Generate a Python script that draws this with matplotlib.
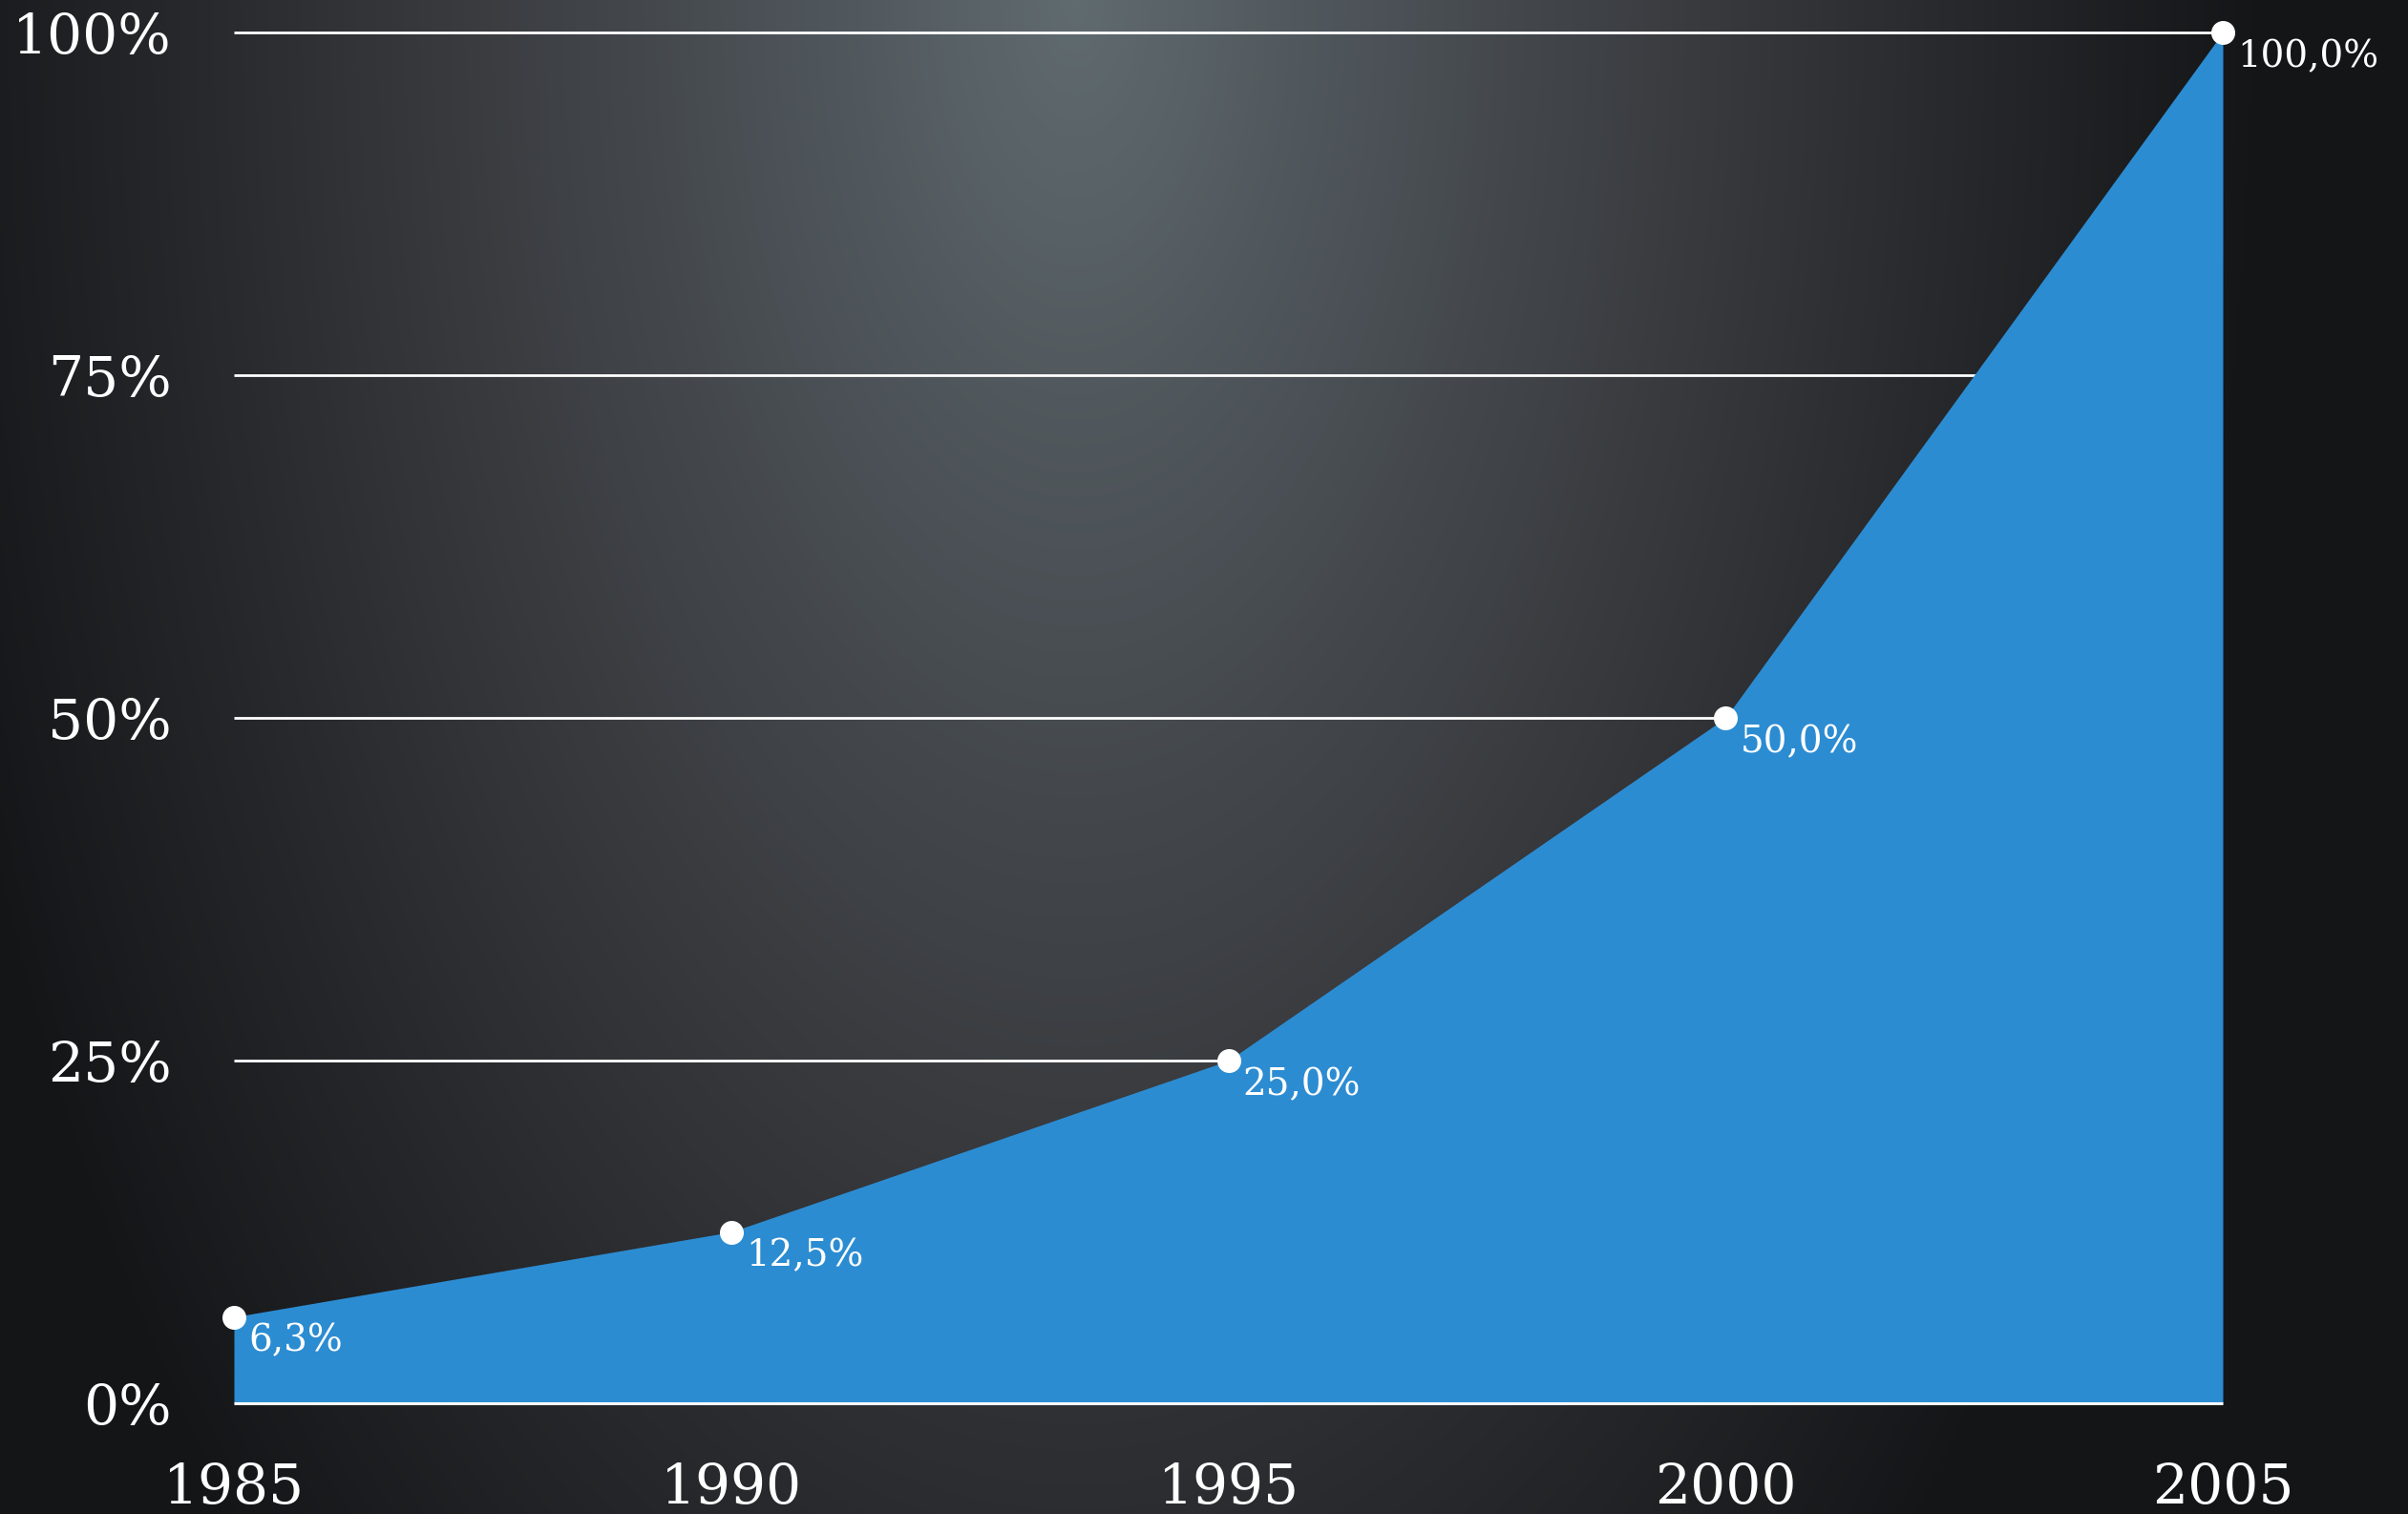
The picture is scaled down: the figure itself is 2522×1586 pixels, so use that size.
import numpy as np
import matplotlib
matplotlib.use("Agg")
import matplotlib.pyplot as plt
from matplotlib.colors import LinearSegmentedColormap

# ===============================
# DATA
# ===============================
years = [1985, 1990, 1995, 2000, 2005]
values = [6.3, 12.5, 25.0, 50.0, 100.0]
point_labels = ["6,3%", "12,5%", "25,0%", "50,0%", "100,0%"]
y_ticks = [0, 25, 50, 75, 100]
y_tick_labels = ["0%", "25%", "50%", "75%", "100%"]

# ===============================
# STYLE
# ===============================
plt.rcParams["font.family"] = ["DejaVu Serif", "DejaVu Sans"]
AREA_COLOR = "#2c8cd2"
W, H = 2522, 1586

fig = plt.figure(figsize=(W / 100, H / 100), dpi=100)

# background: soft spotlight from the top centre
bg = fig.add_axes([0, 0, 1, 1], zorder=-10)
xx, yy = np.meshgrid(np.arange(W), np.arange(H))
r = np.sqrt(((xx - 1126) / 1250.0) ** 2 + (yy / 2300.0) ** 2)
r = np.clip(r, 0, 1)
spot = LinearSegmentedColormap.from_list(
    "spot",
    [(0.0, (96/255, 107/255, 111/255)),
     (0.25, (76/255, 82/255, 87/255)),
     (0.5, (58/255, 60/255, 64/255)),
     (0.75, (38/255, 40/255, 43/255)),
     (1.0, (20/255, 21/255, 23/255))],
)
bg.imshow(r, cmap=spot, vmin=0, vmax=1, aspect="auto", interpolation="bilinear")
bg.axis("off")

# ===============================
# MAIN CHART
# ===============================
ax = fig.add_axes([245 / W, 1 - 1470 / H, (2328 - 245) / W, (1470 - 34) / H])
ax.patch.set_alpha(0)

# grid lines sit under the area; the top one needs to escape the clip box
for v in y_ticks[1:]:
    ax.axhline(v, color="white", lw=2.0, zorder=1, clip_on=(v != 100),
               solid_capstyle="butt")

ax.fill_between(years, values, 0, color=AREA_COLOR, lw=0, zorder=2)
ax.axhline(0, color="white", lw=2.2, zorder=3, clip_on=False, solid_capstyle="butt")

ax.plot(years, values, "o", color="white", ms=17, mec="white", zorder=5, clip_on=False)

for x, v, lab in zip(years, values, point_labels):
    ax.annotate(lab, (x, v), xytext=(11, -26), textcoords="offset points",
                ha="left", va="baseline", color="white", fontsize=28,
                zorder=6, annotation_clip=False)

ax.set_xlim(years[0], years[-1])
ax.set_ylim(0, 100)
ax.set_xticks(years)
ax.set_xticklabels([str(y) for y in years])
ax.set_yticks(y_ticks)
ax.set_yticklabels(y_tick_labels)
ax.tick_params(axis="both", length=0, colors="white", labelsize=42)
ax.tick_params(axis="y", pad=47)
ax.tick_params(axis="x", pad=44)
for s in ax.spines.values():
    s.set_visible(False)

fig.savefig("out.png", dpi=100)
